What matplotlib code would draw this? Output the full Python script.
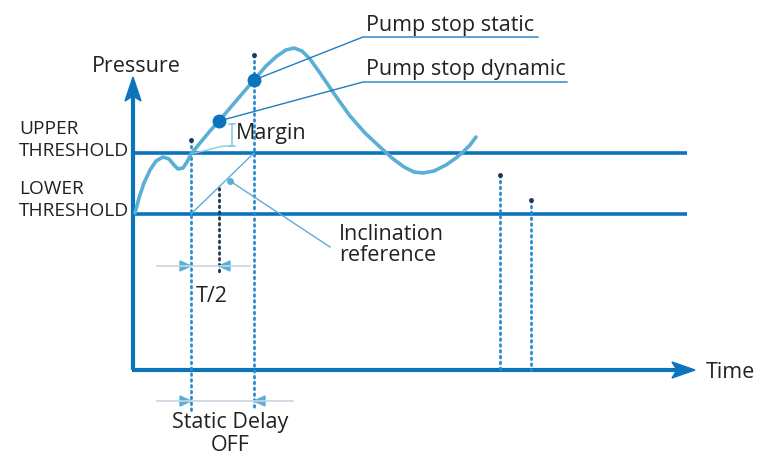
"""
Pump stop diagram: pressure vs time with thresholds
"""
import matplotlib.pyplot as plt
from matplotlib.patches import Polygon

# Pressure curve (diagram units, y grows downward like the picture)
curve_x = [135, 139, 144, 150, 156, 163, 169, 174, 178, 183, 187, 191, 200, 210, 219, 230,
           242, 254, 266, 277, 286, 294, 302, 310, 320, 335, 350, 365, 380, 392, 404,
           414, 423, 434, 446, 456, 463, 470, 476]
curve_y = [213, 198, 183, 170, 161, 157, 159, 165, 169, 168, 162, 154, 143, 131, 121, 108,
           94, 80, 66, 56, 50, 48, 51, 59, 73, 95, 116, 133, 147, 158, 167,
           172, 173, 171, 165, 158, 152, 145, 137]

upper_level = 153
lower_level = 214
axis_level = 370

# event points on the curve
dynamic_pt = (219, 121)
static_pt = (254, 80)

# vertical dotted markers: x, top, bottom
markers_x = [191, 254, 500, 531]
markers_top = [140, 55, 175, 200]
markers_bottom = [410, 410, 370, 370]
half_x, half_top, half_bottom = 219, 188, 272

DARK = '#0b74bb'
CURVE = '#5aafd4'
LIGHT = '#8bc9e4'
NAVY = '#1d3557'
TXT = '#222222'

plt.rcParams['font.family'] = ['Open Sans', 'DejaVu Sans']

fig = plt.figure(figsize=(7.58, 4.55), dpi=100)
ax = fig.add_axes([0, 0, 1, 1])
ax.set_xlim(0, 758)
ax.set_ylim(455, 0)
ax.axis('off')

# axes with arrows
ax.plot([133, 133], [axis_level, 95], color=DARK, lw=3, solid_capstyle='butt')
ax.plot([131.5, 680], [axis_level, axis_level], color=DARK, lw=3, solid_capstyle='butt')
ax.add_patch(Polygon([[133, 77], [141, 101], [133, 96], [125, 101]], closed=True, color=DARK))
ax.add_patch(Polygon([[695, axis_level], [672, axis_level - 8], [677, axis_level],
                      [672, axis_level + 8]], closed=True, color=DARK))

# thresholds
ax.plot([133, 687], [upper_level, upper_level], color=DARK, lw=2.6, solid_capstyle='butt')
ax.plot([133, 687], [lower_level, lower_level], color=DARK, lw=2.6, solid_capstyle='butt')

# dotted markers
for x, t, b in zip(markers_x, markers_top, markers_bottom):
    ax.plot([x, x], [t, b], color='#2a8ccf', lw=2, ls=(0, (0.6, 1.5)), dash_capstyle='round')
    ax.plot([x], [t], 'o', color=NAVY, ms=2.5)
ax.plot([half_x, half_x], [half_top, half_bottom], color=NAVY, lw=2, ls=(0, (0.6, 1.5)),
        dash_capstyle='round')

# inclination reference
ax.plot([markers_x[0], markers_x[1]], [lower_level, upper_level], color=CURVE, lw=1)
ax.plot([230], [181], 'o', color=CURVE, ms=4)
ax.plot([230, 330], [181, 247], color=CURVE, lw=1)

# margin bracket
ax.plot([191, 223, 232], [154, 146, 146], color=LIGHT, lw=1)
ax.plot([232, 232], [124, 146], color=LIGHT, lw=1.2)
ax.plot([229, 235], [124, 124], color=LIGHT, lw=1.2)
ax.plot([229, 235], [146, 146], color=LIGHT, lw=1.2)

# curve
ax.plot(curve_x, curve_y, color=CURVE, lw=2.6, solid_joinstyle='round', solid_capstyle='round')

# pump stop points and leaders
ax.plot([static_pt[0], 363, 538], [static_pt[1], 37, 37], color='#1e7ec2', lw=1)
ax.plot([dynamic_pt[0], 363, 567], [dynamic_pt[1], 82, 82], color='#1e7ec2', lw=1)
ax.plot(*static_pt, 'o', color=DARK, ms=9)
ax.plot(*dynamic_pt, 'o', color=DARK, ms=9)

# interval arrows
def interval(y, x0, x1, left_tip, right_tip):
    ax.plot([x0, x1], [y, y], color='#c9d5e3', lw=1.2)
    ax.add_patch(Polygon([[left_tip, y], [left_tip - 11, y - 5], [left_tip - 11, y + 5]],
                         closed=True, color=CURVE))
    ax.add_patch(Polygon([[right_tip, y], [right_tip + 11, y - 5], [right_tip + 11, y + 5]],
                         closed=True, color=CURVE))

interval(266, 157, 250, markers_x[0], half_x)
interval(401, 157, 293, markers_x[0], markers_x[1])

# labels
fs = 15.5
ax.text(136, 66, 'Pressure', fontsize=fs, color=TXT, ha='center', va='center')
ax.text(706, 373, 'Time', fontsize=fs, color=TXT, ha='left', va='center')
ax.text(366, 25, 'Pump stop static', fontsize=fs, color=TXT, ha='left', va='center')
ax.text(366, 69, 'Pump stop dynamic', fontsize=fs, color=TXT, ha='left', va='center')
ax.text(236, 134, 'Margin', fontsize=fs, color=TXT, ha='left', va='center')
ax.text(339, 245, 'Inclination\nreference', fontsize=fs, color=TXT, ha='left', va='center',
        linespacing=1.06)
ax.text(230, 434, 'Static Delay\nOFF', fontsize=fs, color=TXT, ha='center', va='center',
        linespacing=1.1)
ax.text(212, 296, 'T/2', fontsize=fs, color=TXT, ha='center', va='center')
ax.text(19, 140, 'UPPER\nTHRESHOLD', fontsize=13.8, color=TXT, ha='left', va='center',
        linespacing=1.28)
ax.text(19, 200, 'LOWER\nTHRESHOLD', fontsize=13.8, color=TXT, ha='left', va='center',
        linespacing=1.28)

fig.savefig('out.png', dpi=100)
